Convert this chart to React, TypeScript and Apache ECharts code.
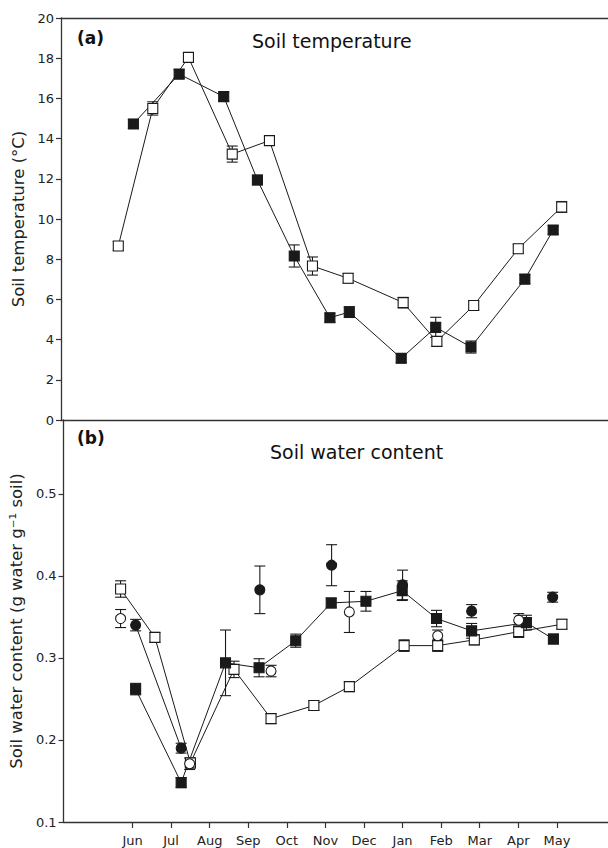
import React, { useEffect, useRef } from "react";
import * as echarts from "echarts";

// Month ticks (x in month units, Jun = 0)
const monthLabels = ["Jun", "Jul", "Aug", "Sep", "Oct", "Nov", "Dec", "Jan", "Feb", "Mar", "Apr", "May"];
const monthTicks = [0, 1, 2, 3, 4, 5, 6, 7, 8, 9, 10, 11];
const xMin = -1.788;
const xMax = 12.325;

// Panel (a) soil temperature (°C)
const tempOpenX = [-0.31, 0.58, 1.5, 2.63, 3.59, 4.7, 5.62, 7.04, 7.91, 8.86, 10.01, 11.13];
const tempOpen = [8.66, 15.5, 18.04, 13.23, 13.9, 7.66, 7.05, 5.84, 3.91, 5.7, 8.52, 10.6];
const tempOpenErr = [0.22, 0.33, 0.22, 0.4, 0.22, 0.45, 0.24, 0.26, 0.24, 0.22, 0.22, 0.27];
const tempFilledX = [0.08, 1.26, 2.41, 3.28, 4.23, 5.15, 5.65, 6.99, 7.88, 8.79, 10.18, 10.91];
const tempFilled = [14.73, 17.21, 16.09, 11.94, 8.16, 5.09, 5.37, 3.07, 4.61, 3.63, 7.01, 9.45];
const tempFilledErr = [0.22, 0.22, 0.22, 0.24, 0.55, 0.22, 0.27, 0.22, 0.5, 0.3, 0.22, 0.22];
const tempTicks = [0, 2, 4, 6, 8, 10, 12, 14, 16, 18, 20];

// Panel (b) soil water content (g water g-1 soil)
const waterOpenSqX = [-0.31, 0.58, 1.5, 2.63, 3.59, 4.7, 5.62, 7.04, 7.91, 8.86, 10.01, 11.13];
const waterOpenSq = [0.384, 0.325, 0.172, 0.286, 0.226, 0.242, 0.265, 0.315, 0.315, 0.322, 0.332, 0.341];
const waterOpenSqErr = [0.01, 0.006, 0.006, 0.01, 0.006, 0.006, 0.006, 0.007, 0.007, 0.006, 0.007, 0.006];
const waterFilledSqX = [0.08, 1.26, 2.41, 3.28, 4.23, 5.15, 6.05, 6.99, 7.88, 8.79, 10.21, 10.91];
const waterFilledSq = [0.262, 0.148, 0.294, 0.288, 0.321, 0.367, 0.369, 0.382, 0.348, 0.333, 0.343, 0.323];
const waterFilledSqErr = [0.007, 0.006, 0.04, 0.011, 0.008, 0.006, 0.012, 0.012, 0.01, 0.009, 0.009, 0.006];
const waterFilledCircX = [0.08, 1.26, 3.3, 5.16, 7.0, 8.79, 10.89];
const waterFilledCirc = [0.34, 0.19, 0.383, 0.413, 0.389, 0.357, 0.374];
const waterFilledCircErr = [0.007, 0.006, 0.029, 0.025, 0.018, 0.008, 0.006];
const waterFilledCircLinked = 2; // first points joined by a line
const waterOpenCircX = [-0.31, 1.48, 3.59, 5.62, 7.91, 10.01];
const waterOpenCirc = [0.348, 0.171, 0.284, 0.356, 0.327, 0.346];
const waterOpenCircErr = [0.011, 0.007, 0.007, 0.025, 0.007, 0.008];
const waterTicks = [0.1, 0.2, 0.3, 0.4, 0.5];

const FONT = "DejaVu Sans";
const INK = "#1a1a1a";
const AXIS = "#333";

function pairs(xs: number[], ys: number[]) {
  return xs.map((x, i) => [x, ys[i]]);
}

function errSeries(xs: number[], ys: number[], es: number[], axis: number) {
  return {
    type: "custom",
    xAxisIndex: axis,
    yAxisIndex: axis,
    silent: true,
    z: 2,
    data: xs.map((x, i) => [x, ys[i] - es[i], ys[i] + es[i]]),
    encode: { x: 0, y: [1, 2] },
    renderItem: (_p: any, api: any) => {
      const lo = api.coord([api.value(0), api.value(1)]);
      const hi = api.coord([api.value(0), api.value(2)]);
      const w = 5.5;
      const st = { stroke: INK, lineWidth: 1.1 };
      return {
        type: "group",
        children: [
          { type: "line", shape: { x1: lo[0], y1: lo[1], x2: hi[0], y2: hi[1] }, style: st },
          { type: "line", shape: { x1: lo[0] - w, y1: lo[1], x2: lo[0] + w, y2: lo[1] }, style: st },
          { type: "line", shape: { x1: hi[0] - w, y1: hi[1], x2: hi[0] + w, y2: hi[1] }, style: st },
        ],
      };
    },
  };
}

function lineSeries(xs: number[], ys: number[], axis: number, symbol: string, filled: boolean) {
  return {
    type: "line",
    xAxisIndex: axis,
    yAxisIndex: axis,
    data: pairs(xs, ys),
    symbol,
    symbolSize: 10,
    showSymbol: true,
    z: 3,
    lineStyle: { color: INK, width: 1 },
    itemStyle: { color: filled ? INK : "#fff", borderColor: INK, borderWidth: 1.1, opacity: 1 },
    emphasis: { disabled: true },
  };
}

function scatterSeries(xs: number[], ys: number[], axis: number, symbol: string, filled: boolean) {
  return {
    type: "scatter",
    xAxisIndex: axis,
    yAxisIndex: axis,
    data: pairs(xs, ys),
    symbol,
    symbolSize: 10,
    z: 4,
    itemStyle: { color: filled ? INK : "#fff", borderColor: INK, borderWidth: 1.1, opacity: 1 },
    emphasis: { disabled: true },
  };
}

export default function App() {
  const ref = useRef<HTMLDivElement>(null);
  useEffect(() => {
    if (!ref.current) return;
    const chart = echarts.init(ref.current, undefined, { renderer: "svg" });
    const tickLabelStyle = { fontFamily: FONT, fontSize: 13, color: "#222" };
    const option: any = {
      animation: false,
      backgroundColor: "#fff",
      grid: [
        { left: 61, right: 0, top: 18, height: 402 },
        { left: 61, right: 0, top: 420, height: 402 },
      ],
      xAxis: [
        {
          type: "value", gridIndex: 0, min: xMin, max: xMax,
          axisLine: { show: true, onZero: false, lineStyle: { color: AXIS, width: 1.3 } },
          axisTick: { show: false }, axisLabel: { show: false }, splitLine: { show: false },
        },
        {
          type: "value", gridIndex: 1, min: xMin, max: xMax,
          axisLine: { show: true, onZero: false, lineStyle: { color: AXIS, width: 1.3 } },
          axisTick: { show: true, length: 6, customValues: monthTicks, lineStyle: { color: AXIS, width: 1.2 } },
          axisLabel: {
            show: true, margin: 12, customValues: monthTicks, ...tickLabelStyle,
            formatter: (v: number) => monthLabels[Math.round(v)] ?? "",
          },
          splitLine: { show: false },
        },
        {
          type: "value", gridIndex: 0, position: "top", min: xMin, max: xMax,
          axisLine: { show: true, onZero: false, lineStyle: { color: AXIS, width: 1.3 } },
          axisTick: { show: false }, axisLabel: { show: false }, splitLine: { show: false },
        },
      ],
      yAxis: [
        {
          type: "value", gridIndex: 0, min: 0, max: 20, interval: 2,
          name: "Soil temperature (°C)", nameLocation: "middle", nameGap: 25,
          nameTextStyle: { fontFamily: FONT, fontSize: 16.5, color: "#222" },
          axisLine: { show: true, onZero: false, lineStyle: { color: AXIS, width: 1.3 } },
          axisTick: { show: true, length: 5, customValues: tempTicks, lineStyle: { color: AXIS, width: 1.2 } },
          axisLabel: { show: true, margin: 7, customValues: tempTicks, ...tickLabelStyle },
          splitLine: { show: false },
        },
        {
          type: "value", gridIndex: 1, min: 0.1, max: 0.59, interval: 0.1,
          name: "Soil water content (g water g⁻¹ soil)", nameLocation: "middle", nameGap: 31,
          nameTextStyle: { fontFamily: FONT, fontSize: 16.5, color: "#222" },
          axisLine: { show: true, onZero: false, lineStyle: { color: AXIS, width: 1.3 } },
          axisTick: { show: true, length: 5, customValues: waterTicks, lineStyle: { color: AXIS, width: 1.2 } },
          axisLabel: {
            show: true, margin: 7, customValues: waterTicks, ...tickLabelStyle,
            formatter: (v: number) => v.toFixed(1),
          },
          splitLine: { show: false },
        },
      ],
      graphic: [
        { type: "text", x: 77, y: 38, style: { text: "(a)", font: `bold 17px '${FONT}'`, fill: "#111", textVerticalAlign: "middle" } },
        { type: "text", x: 252, y: 41, style: { text: "Soil temperature", font: `19px '${FONT}'`, fill: "#111", textVerticalAlign: "middle" } },
        { type: "text", x: 77, y: 438, style: { text: "(b)", font: `bold 17px '${FONT}'`, fill: "#111", textVerticalAlign: "middle" } },
        { type: "text", x: 270, y: 452, style: { text: "Soil water content", font: `19px '${FONT}'`, fill: "#111", textVerticalAlign: "middle" } },
      ],
      series: [
        // panel a
        errSeries(tempOpenX, tempOpen, tempOpenErr, 0),
        errSeries(tempFilledX, tempFilled, tempFilledErr, 0),
        lineSeries(tempFilledX, tempFilled, 0, "rect", true),
        lineSeries(tempOpenX, tempOpen, 0, "rect", false),
        // panel b
        errSeries(waterOpenSqX, waterOpenSq, waterOpenSqErr, 1),
        errSeries(waterFilledSqX, waterFilledSq, waterFilledSqErr, 1),
        errSeries(waterFilledCircX, waterFilledCirc, waterFilledCircErr, 1),
        errSeries(waterOpenCircX, waterOpenCirc, waterOpenCircErr, 1),
        lineSeries(waterOpenSqX, waterOpenSq, 1, "rect", false),
        lineSeries(waterFilledSqX, waterFilledSq, 1, "rect", true),
        {
          type: "line", xAxisIndex: 1, yAxisIndex: 1, z: 3, showSymbol: false, symbol: "none",
          data: pairs(waterFilledCircX.slice(0, waterFilledCircLinked), waterFilledCirc.slice(0, waterFilledCircLinked)),
          lineStyle: { color: INK, width: 1 }, emphasis: { disabled: true },
        },
        scatterSeries(waterFilledCircX, waterFilledCirc, 1, "circle", true),
        scatterSeries(waterOpenCircX, waterOpenCirc, 1, "circle", false),
      ],
    };
    chart.setOption(option);
    return () => chart.dispose();
  }, []);
  return <div ref={ref} style={{ position: "absolute", left: 0, top: 0, width: 608, height: 848, background: "#fff" }} />;
}
